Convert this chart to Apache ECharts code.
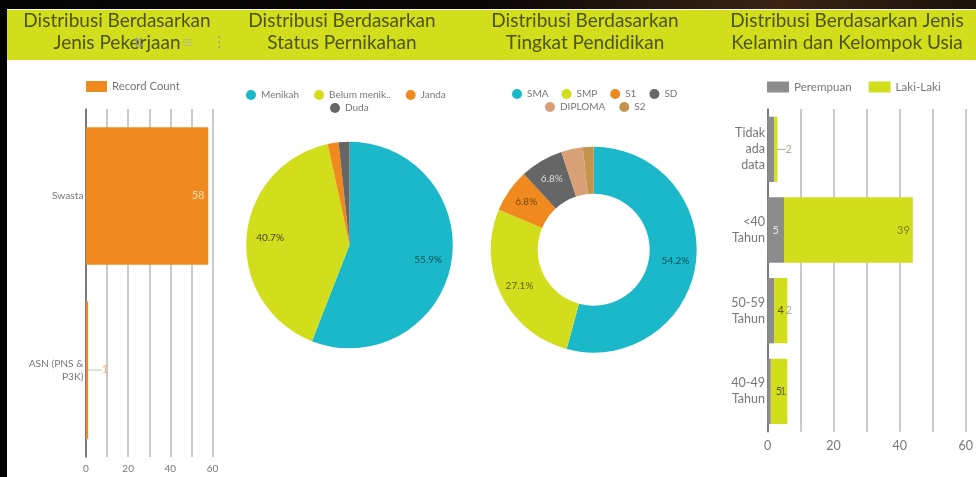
<!DOCTYPE html>
<html><head><meta charset="utf-8">
<style>html,body{margin:0;padding:0;background:#000}#c{width:976px;height:477px}</style>
<script src="https://cdn.jsdelivr.net/npm/echarts@6/dist/echarts.min.js"></script>
</head><body><div id="c"></div>
<script>
const FONT = 'Lato';
const jobCategories = ['Swasta', 'ASN (PNS &\nP3K)'];
const jobCounts = [58, 1];
const maritalNames = ['Menikah', 'Belum menikah', 'Janda', 'Duda'];
const maritalCounts = [33, 24, 1, 1];
const eduNames = ['SMA', 'SMP', 'S1', 'SD', 'DIPLOMA', 'S2'];
const eduCounts = [32, 16, 4, 4, 2, 1];
const ageCategories = ['Tidak\nada\ndata', '<40\nTahun', '50-59\nTahun', '40-49\nTahun'];
const femaleCounts = [2, 5, 2, 1];
const maleCounts = [1, 39, 4, 5];
const titles = ['Distribusi Berdasarkan\nJenis Pekerjaan', 'Distribusi Berdasarkan\nStatus Pernikahan', 'Distribusi Berdasarkan\nTingkat Pendidikan', 'Distribusi Berdasarkan Jenis\nKelamin dan Kelompok Usia'];
const titleCentres = [117, 342, 585, 847];

const TEAL='#1ab8c8', LIME='#d2de1c', ORANGE='#f18a1e', DARK='#666666', TAN='#d8a077', BROWN='#c4944c', GREY='#8c8c8c';
const maritalColors=[TEAL,LIME,ORANGE,DARK];
const eduColors=[TEAL,LIME,ORANGE,DARK,TAN,BROWN];
const maritalLabelColors=['#0f4f5a','#3d4300'];
const maritalShift=[[25,5],[-25,-3]];
const eduLabelColors=['#0f4f5a','#5a6000','#6b4a10','#dddddd'];
const jobLabelColors=['#fbe0c0','#f5b270'];
const jobShift=[0,24];
const femaleShift=[18,0,18,14];
const femaleLabelColors=['#a9ad9a','#e6e6e6','#a9ad9a','#6f7350'];
const maleShift=[0,55,0,0];
const maleLabelColors=['#7a8214','#7a8214','#50560f','#50560f'];

const valueAxis=(grid,size)=>({type:'value',gridIndex:grid,min:0,max:60,interval:10,
  axisLine:{show:false},axisTick:{show:false},
  axisLabel:{fontFamily:FONT,fontSize:size,color:'#777',margin:grid?8:7,formatter:v=>v%20===0?String(v):''},
  splitLine:{show:true,lineStyle:{color:'#bdbdbd',width:1.6}}});
const catAxis=(grid,data,size,h)=>({type:'category',gridIndex:grid,inverse:true,data,
  axisLine:{show:true,lineStyle:{color:'#666',width:1.6}},axisTick:{show:false},
  axisLabel:{fontFamily:FONT,fontSize:size,color:'#777',margin:2.5,lineHeight:h,align:'right'}});
const legend=(names,left,top,icon,w,h,gap,size,extra)=>Object.assign({data:names,left,top,icon,itemWidth:w,itemHeight:h,itemGap:gap,padding:0,orient:'horizontal',
  selectedMode:false,textStyle:{fontFamily:FONT,fontSize:size,color:'#777'}},extra||{});
const truncate={formatter:n=>n.length>12?n.slice(0,11)+'..':n};
const pieBase=(center,radius)=>({type:'pie',center,radius,startAngle:90,clockwise:true,silent:true,animation:false,
  itemStyle:{borderWidth:0},labelLine:{show:false}});

const option={
  animation:false,
  backgroundColor:'#000',
  graphic:[
    {type:'rect',z:-5,shape:{x:0,y:0,width:976,height:9},style:{fill:new echarts.graphic.LinearGradient(0,0,1,0,[
      {offset:0,color:'#040404'},{offset:.5,color:'#0a0705'},{offset:.8,color:'#3a2412'},{offset:1,color:'#1a120a'}])}},
    {type:'rect',z:-4,shape:{x:7,y:9,width:969,height:468},style:{fill:'#fff'}},
    {type:'rect',z:-3,shape:{x:7,y:10,width:969,height:50},style:{fill:LIME}},
    {type:'text',z:20,style:{x:133,y:37,text:'⇅',fontSize:13,fill:'#8f9c8a',fontFamily:'DejaVu Sans'}},
    {type:'text',z:20,style:{x:181,y:36,text:'≡',fontSize:15,fill:'#b6c26a',fontFamily:'DejaVu Sans'}},
    {type:'text',z:20,style:{x:212,y:36,text:'⋮',fontSize:15,fill:'#8f9c8a',fontFamily:'DejaVu Sans'}}
  ],
  title:titles.map((t,i)=>({text:t,left:titleCentres[i],top:10,textAlign:'center',padding:0,
    textStyle:{fontFamily:FONT,fontSize:19,fontWeight:'normal',color:'#4e540c',lineHeight:22}})),
  legend:[
    legend(['Record Count'],86,81,'rect',21,11,8,11.3,{itemGap:4}),
    legend(['Menikah','Belum menikah','Janda'],246,90,'circle',10,10,15,10,truncate),
    legend(['Duda'],330,103,'circle',10,10,16,10),
    legend(eduNames.slice(0,4),512,89,'circle',10,10,13,10),
    legend(eduNames.slice(4),545,102,'circle',10,10,14,10),
    legend(['Perempuan','Laki-Laki'],767,81,'rect',22,11,17,11.6)
  ],
  grid:[
    {left:86,top:109,width:126.5,height:348},
    {left:767.5,top:109,width:198.2,height:322.7}
  ],
  xAxis:[valueAxis(0,10),valueAxis(1,12.5)],
  yAxis:[catAxis(0,jobCategories,10.2,13),catAxis(1,ageCategories,12.5,16)],
  series:[
    {type:'bar',name:'Record Count',xAxisIndex:0,yAxisIndex:0,
      data:jobCounts.map((value,i)=>({value,label:{color:jobLabelColors[i]}})),
      barCategoryGap:'21%',itemStyle:{color:ORANGE},
      label:{show:true,position:'insideRight',distance:4,fontFamily:FONT,fontSize:10.5},
      labelLayout:p=>({dx:jobShift[p.dataIndex]}),
      labelLine:{show:true,lineStyle:{color:'#c9c0b4',width:1}}},
    Object.assign(pieBase([349.5,245],[0,103.3]),{
      data:maritalNames.map((name,i)=>({name,value:maritalCounts[i],itemStyle:{color:maritalColors[i]},
        label:{color:maritalLabelColors[i]||'#000'}})),
      label:{show:true,position:'inside',fontFamily:FONT,fontSize:10,
        formatter:p=>p.percent>=5?p.percent.toFixed(1)+'%':''},
      percentPrecision:1,
      labelLayout:p=>{const s=maritalShift[p.dataIndex]||[0,0];return {dx:s[0],dy:s[1]};}}),
    Object.assign(pieBase([593.7,249.7],[56,103]),{
      data:eduNames.map((name,i)=>({name,value:eduCounts[i],itemStyle:{color:eduColors[i]},
        label:{color:eduLabelColors[i]||'#000'}})),
      label:{show:true,position:'inside',fontFamily:FONT,fontSize:10,
        formatter:p=>p.percent>=5?p.percent.toFixed(1)+'%':''},
      percentPrecision:1}),
    {type:'bar',name:'Perempuan',stack:'a',xAxisIndex:1,yAxisIndex:1,
      data:femaleCounts.map((value,i)=>({value,label:{color:femaleLabelColors[i]}})),
      barCategoryGap:'19%',itemStyle:{color:GREY},
      label:{show:true,position:'inside',fontFamily:FONT,fontSize:11},
      labelLayout:p=>({dx:femaleShift[p.dataIndex]}),
      labelLine:{show:true,lineStyle:{color:'#a8a8a0',width:1}}},
    {type:'bar',name:'Laki-Laki',stack:'a',xAxisIndex:1,yAxisIndex:1,
      data:maleCounts.map((value,i)=>({value,label:{color:maleLabelColors[i]}})),
      itemStyle:{color:LIME},
      label:{show:true,position:'inside',fontFamily:FONT,fontSize:11,
        formatter:p=>p.dataIndex===0?'':String(p.value)},
      labelLayout:p=>({dx:maleShift[p.dataIndex]}),
      labelLine:{show:false}}
  ]
};
echarts.init(document.getElementById('c'),null,{renderer:'canvas'}).setOption(option);
</script></body></html>
